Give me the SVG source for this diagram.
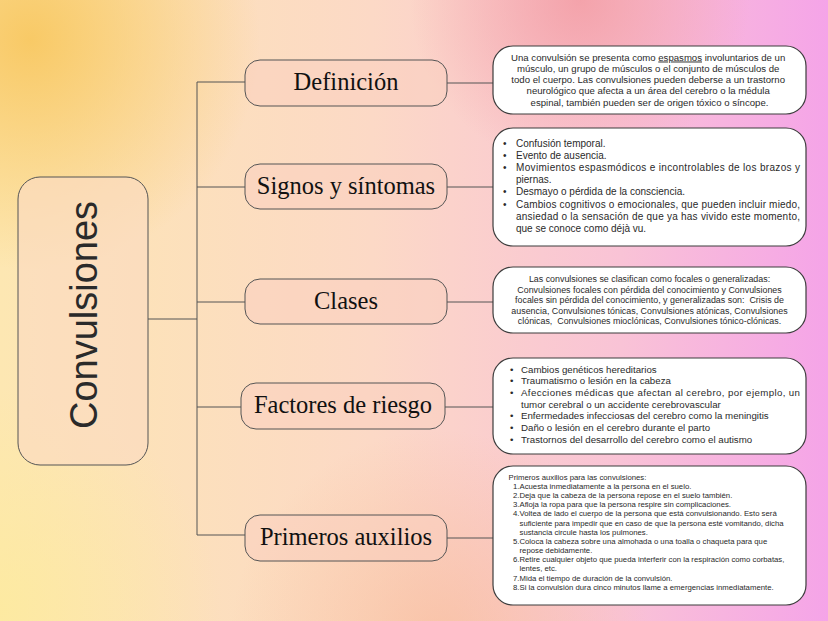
<svg xmlns="http://www.w3.org/2000/svg" width="828" height="621" viewBox="0 0 828 621">
<defs>
  <linearGradient id="bg" x1="0" y1="0" x2="1" y2="0">
    <stop offset="0" stop-color="#fde7b2"/>
    <stop offset="0.45" stop-color="#fcd9c6"/>
    <stop offset="0.75" stop-color="#f9c3d6"/>
    <stop offset="1" stop-color="#f5a4e8"/>
  </linearGradient>
  <radialGradient id="g1" cx="30" cy="40" r="230" gradientUnits="userSpaceOnUse">
    <stop offset="0" stop-color="#f8c862" stop-opacity="0.95"/>
    <stop offset="1" stop-color="#f8c862" stop-opacity="0"/>
  </radialGradient>
  <radialGradient id="g2" cx="580" cy="0" r="170" gradientUnits="userSpaceOnUse">
    <stop offset="0" stop-color="#f2979d" stop-opacity="0.75"/>
    <stop offset="1" stop-color="#f2979d" stop-opacity="0"/>
  </radialGradient>
  <radialGradient id="g3" cx="0" cy="610" r="220" gradientUnits="userSpaceOnUse">
    <stop offset="0" stop-color="#fdeb9a" stop-opacity="0.7"/>
    <stop offset="1" stop-color="#fdeb9a" stop-opacity="0"/>
  </radialGradient>
  <radialGradient id="g4" cx="440" cy="640" r="210" gradientUnits="userSpaceOnUse">
    <stop offset="0" stop-color="#f7b68c" stop-opacity="0.55"/>
    <stop offset="1" stop-color="#f7b68c" stop-opacity="0"/>
  </radialGradient>
</defs>
<style>
  .lbl{fill:#f9d0c0;fill-opacity:0.55;stroke:#555;stroke-width:1}
  .main{fill:#fbdcc0;fill-opacity:0.7;stroke:#555;stroke-width:1}
  .box{fill:#ffffff;stroke:#3d3d3d;stroke-width:1.2}
  .lt{font-family:"Liberation Serif","Times New Roman",serif;font-size:24.5px;fill:#111;text-anchor:middle}
  .t{font-family:"Liberation Sans",Arial,sans-serif;fill:#2a2a2a}
  .c{text-anchor:middle}
  .conn line{stroke:#555;stroke-width:1}
</style>
<rect x="0" y="0" width="828" height="621" fill="url(#bg)"/>
<rect x="0" y="0" width="828" height="621" fill="url(#g1)"/>
<rect x="0" y="0" width="828" height="621" fill="url(#g2)"/>
<rect x="0" y="0" width="828" height="621" fill="url(#g3)"/>
<rect x="0" y="0" width="828" height="621" fill="url(#g4)"/>

<g id="connectors" class="conn">
  <line x1="148" y1="319" x2="197" y2="319"/>
  <line x1="197" y1="82" x2="197" y2="535"/>
  <line x1="197" y1="82" x2="245" y2="82"/>
  <line x1="197" y1="187" x2="245" y2="187"/>
  <line x1="197" y1="302" x2="245" y2="302"/>
  <line x1="197" y1="407" x2="241" y2="407"/>
  <line x1="197" y1="535" x2="245" y2="535"/>
  <line x1="447" y1="83" x2="493" y2="83"/>
  <line x1="447" y1="187" x2="493" y2="187"/>
  <line x1="447" y1="302" x2="493" y2="302"/>
  <line x1="445" y1="407" x2="493" y2="407"/>
  <line x1="447" y1="538" x2="493" y2="538"/>
</g>

<g id="node-convulsiones">
  <rect class="main" x="18" y="177" width="130" height="288" rx="22"/>
  <text class="t" transform="translate(97,315) rotate(-90)" text-anchor="middle" font-size="38">Convulsiones</text>
</g>

<g id="node-definicion">
  <rect class="lbl" x="245" y="60" width="202" height="46" rx="15"/>
  <text class="lt" x="346" y="90">Definición</text>
</g>
<g id="node-signos">
  <rect class="lbl" x="245" y="164" width="202" height="45" rx="15"/>
  <text class="lt" x="346" y="194">Signos y síntomas</text>
</g>
<g id="node-clases">
  <rect class="lbl" x="245" y="279" width="202" height="45" rx="15"/>
  <text class="lt" x="346" y="309">Clases</text>
</g>
<g id="node-factores">
  <rect class="lbl" x="241" y="383" width="204" height="46" rx="15"/>
  <text class="lt" x="343" y="413">Factores de riesgo</text>
</g>
<g id="node-primeros">
  <rect class="lbl" x="245" y="515" width="202" height="46" rx="15"/>
  <text class="lt" x="346" y="545">Primeros auxilios</text>
</g>

<g id="box-definicion">
  <rect class="box" x="493" y="46" width="313" height="68" rx="20"/>
  <text class="t c" font-size="9.6">
    <tspan x="649.5" y="60.5">Una convulsión se presenta como <tspan text-decoration="underline">espasmos</tspan> involuntarios de un</tspan>
    <tspan x="649.5" y="71.8">músculo, un grupo de músculos o el conjunto de músculos de</tspan>
    <tspan x="649.5" y="83.1">todo el cuerpo. Las convulsiones pueden deberse a un trastorno</tspan>
    <tspan x="649.5" y="94.4">neurológico que afecta a un área del cerebro o la médula</tspan>
    <tspan x="649.5" y="105.7">espinal, también pueden ser de origen tóxico o síncope.</tspan>
  </text>
</g>

<g id="box-signos">
  <rect class="box" x="493" y="128" width="313" height="118" rx="20"/>
  <g class="t" font-size="10">
    <text x="503" y="146.5">•</text>
    <text x="503" y="158.7">•</text>
    <text x="503" y="170.9">•</text>
    <text x="503" y="195.3">•</text>
    <text x="503" y="207.5">•</text>
    <text x="516" y="146.5">Confusión temporal.</text>
    <text x="516" y="158.7">Evento de ausencia.</text>
    <text x="516" y="170.9" textLength="284" lengthAdjust="spacing">Movimientos espasmódicos e incontrolables de los brazos y</text>
    <text x="516" y="183.1">piernas.</text>
    <text x="516" y="195.3">Desmayo o pérdida de la consciencia.</text>
    <text x="516" y="207.5" textLength="284" lengthAdjust="spacing">Cambios cognitivos o emocionales, que pueden incluir miedo,</text>
    <text x="516" y="219.7" textLength="284" lengthAdjust="spacing">ansiedad o la sensación de que ya has vivido este momento,</text>
    <text x="516" y="231.9">que se conoce como déjà vu.</text>
  </g>
</g>

<g id="box-clases">
  <rect class="box" x="493" y="267" width="313" height="66" rx="20"/>
  <text class="t c" font-size="8.9" xml:space="preserve"><tspan x="649.5" y="282">Las convulsiones se clasifican como focales o generalizadas:</tspan><tspan x="649.5" y="292.6">Convulsiones focales con pérdida del conocimiento y Convulsiones</tspan><tspan x="649.5" y="303.2">focales sin pérdida del conocimiento, y generalizadas son:  Crisis de</tspan><tspan x="649.5" y="313.8">ausencia, Convulsiones tónicas, Convulsiones atónicas, Convulsiones</tspan><tspan x="649.5" y="324.4">clónicas,  Convulsiones mioclónicas, Convulsiones tónico-clónicas.</tspan></text>
</g>

<g id="box-factores">
  <rect class="box" x="493" y="358" width="313" height="96" rx="20"/>
  <g class="t" font-size="9.7">
    <text x="510" y="372.6">•</text>
    <text x="510" y="384.3">•</text>
    <text x="510" y="396">•</text>
    <text x="510" y="419.3">•</text>
    <text x="510" y="431">•</text>
    <text x="510" y="442.6">•</text>
    <text x="521" y="372.6">Cambios genéticos hereditarios</text>
    <text x="521" y="384.3">Traumatismo o lesión en la cabeza</text>
    <text x="521" y="396" textLength="279" lengthAdjust="spacing">Afecciones médicas que afectan al cerebro, por ejemplo, un</text>
    <text x="521" y="407.6">tumor cerebral o un accidente cerebrovascular</text>
    <text x="521" y="419.3">Enfermedades infecciosas del cerebro como la meningitis</text>
    <text x="521" y="431">Daño o lesión en el cerebro durante el parto</text>
    <text x="521" y="442.6">Trastornos del desarrollo del cerebro como el autismo</text>
  </g>
</g>

<g id="box-primeros">
  <rect class="box" x="493" y="466" width="313" height="139" rx="20"/>
  <g class="t" font-size="7.75">
    <text x="508.5" y="479.7">Primeros auxilios para las convulsiones:</text>
    <text x="513" y="488.9">1.Acuesta inmediatamente a la persona en el suelo.</text>
    <text x="513" y="498">2.Deja que la cabeza de la persona repose en el suelo también.</text>
    <text x="513" y="507.2">3.Afloja la ropa para que la persona respire sin complicaciones.</text>
    <text x="513" y="516.4">4.Voltea de lado el cuerpo de la persona que está convulsionando. Esto será</text>
    <text x="519.5" y="525.5">suficiente para impedir que en caso de que la persona esté vomitando, dicha</text>
    <text x="519.5" y="534.7">sustancia circule hasta los pulmones.</text>
    <text x="513" y="543.9">5.Coloca la cabeza sobre una almohada o una toalla o chaqueta para que</text>
    <text x="519.5" y="553">repose debidamente.</text>
    <text x="513" y="562.2">6.Retire cualquier objeto que pueda interferir con la respiración como corbatas,</text>
    <text x="519.5" y="571.4">lentes, etc.</text>
    <text x="513" y="580.5">7.Mida el tiempo de duración de la convulsión.</text>
    <text x="513" y="589.7">8.Si la convulsión dura cinco minutos llame a emergencias inmediatamente.</text>
  </g>
</g>
</svg>
